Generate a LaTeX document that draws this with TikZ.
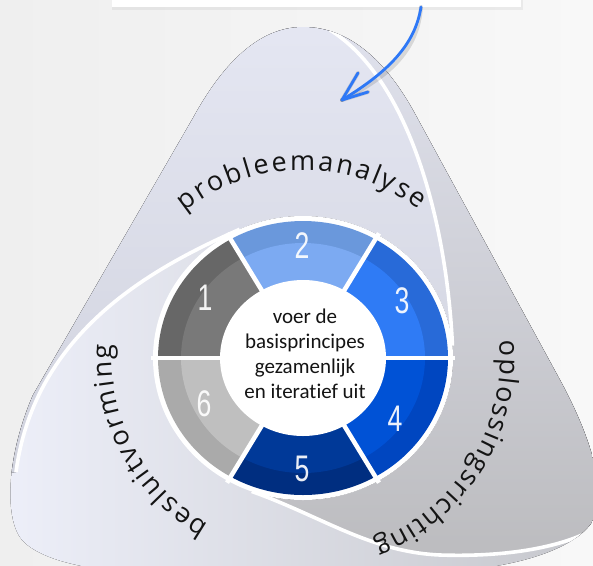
\documentclass[tikz,border=0pt]{standalone}
\usepackage{fontspec}
\setmainfont{Carlito}[Ligatures=NoCommon]
\newfontfamily\curvefont{Open Sans}
\newfontfamily\digitfont{Liberation Sans}
\usetikzlibrary{decorations.text,calc}
\definecolor{bgL}{RGB}{239,239,239}
\definecolor{bgR}{RGB}{248,248,248}
\definecolor{leftA}{RGB}{238,240,250}
\definecolor{leftB}{RGB}{196,197,202}
\definecolor{topA}{RGB}{230,232,244}
\definecolor{topB}{RGB}{208,210,221}
\definecolor{rightA}{RGB}{226,228,240}
\definecolor{rightB}{RGB}{188,188,191}
\definecolor{s1o}{RGB}{103,103,103}
\definecolor{s1i}{RGB}{121,121,121}
\definecolor{s2o}{RGB}{106,152,220}
\definecolor{s2i}{RGB}{124,170,242}
\definecolor{s3o}{RGB}{40,106,216}
\definecolor{s3i}{RGB}{47,123,245}
\definecolor{s4o}{RGB}{0,70,192}
\definecolor{s4i}{RGB}{0,82,214}
\definecolor{s5o}{RGB}{0,46,128}
\definecolor{s5i}{RGB}{0,57,152}
\definecolor{s6o}{RGB}{170,170,170}
\definecolor{s6i}{RGB}{191,191,191}
\definecolor{arrowc}{RGB}{46,120,246}
\definecolor{txt}{RGB}{20,20,20}
\begin{document}
\begin{tikzpicture}[x=1pt,y=-1pt,
  sep/.style={white,line width=3.6pt},
  num/.style={font=\digitfont\fontsize{37}{37}\selectfont, text=white, text opacity=0.92, xscale=0.72, inner sep=0pt},
  ctext/.style={font=\fontsize{21}{25}\selectfont, text=txt, align=center, inner sep=0pt},
  arr/.style={arrowc, line width=2.8pt, line cap=round, line join=round},
  arrshadow/.style={black, opacity=0.12, line width=4pt, line cap=round, line join=round}]
\useasboundingbox (0,0) rectangle (593,565);
\fill[left color=bgL, right color=bgR] (0,0) rectangle (593,565);

\coordinate (c) at (303,358);
\coordinate (A0) at ($(c)+(-5:150 and 142)$);
\coordinate (B0) at ($(c)+(-115:150 and 142)$);
\coordinate (C0) at ($(c)+(-250:150 and 142)$);
\coordinate (A1) at (330,30);
\coordinate (B1) at (16,472);
\coordinate (C1) at (582,535);

% lobes
\begin{scope}
\clip (303,27) .. controls (352,27) and (388,65) .. (414,112)
  -- (560,380) .. controls (598,450) and (606,500) .. (592,522)
  .. controls (575,548) and (520,568) .. (440,572) -- (150,572)
  .. controls (90,572) and (40,560) .. (22,540)
  .. controls (5,520) and (5,460) .. (33,395)
  -- (193,118) .. controls (222,65) and (258,27) .. (303,27) -- cycle;
\fill[left color=leftA, right color=leftB] (-10,-10) rectangle (620,580);
\fill[top color=topA, bottom color=topB]
  (A0) .. controls (447,225) and (410,80) .. (A1) -- (330,-10) -- (-50,-10) -- (-50,480) -- (B1)
  .. controls (35,330) and (155,267) .. (B0)
  arc[start angle=-115, end angle=-5, x radius=150, y radius=142] -- cycle;
\fill[top color=rightA, bottom color=rightB]
  (A0) .. controls (447,225) and (410,80) .. (A1) -- (330,-10) -- (650,-10) -- (650,540) -- (C1)
  .. controls (550,549) and (500,557) .. (440,555)
  .. controls (370,552) and (321,516) .. (C0)
  arc[start angle=-250, end angle=-365, x radius=150, y radius=142] -- cycle;
\draw[sep] (A0) .. controls (447,225) and (410,80) .. (A1);
\draw[sep] (B0) .. controls (155,267) and (35,330) .. (B1);
\draw[sep] (C0) .. controls (321,516) and (370,552) .. (440,555)
  .. controls (500,557) and (550,549) .. (C1);
\end{scope}

% ring
\fill[white] (c) ellipse[x radius=150, y radius=142];
\foreach \a/\co/\ci in {-180/s1o/s1i, -120/s2o/s2i, -60/s3o/s3i, 0/s4o/s4i, 60/s5o/s5i, 120/s6o/s6i}{
  \fill[\co] (c) -- ++(\a:145 and 137) arc[start angle=\a, delta angle=60, x radius=145, y radius=137] -- cycle;
  \fill[\ci] (c) -- ++(\a:122 and 115) arc[start angle=\a, delta angle=60, x radius=122, y radius=115] -- cycle;
}
\foreach \a in {0,60,...,300}{
  \draw[white, line width=4.5pt] (c) -- ++(\a:152 and 144);
}
\fill[white] (c) ellipse[x radius=83, y radius=78];

\node[num] (n1) at (205,298) {1};
\node[num] (n2) at (302,246) {2};
\node[num] (n3) at (402,301) {3};
\node[num] (n4) at (395,419) {4};
\node[num] (n5) at (302,469) {5};
\node[num] (n6) at (204,404) {6};

\node[ctext] (ctr) at (305,354) {voer de\\basisprincipes\\gezamenlijk\\en iteratief uit};

% curved labels
\coordinate (p0) at ($(c)+(-129:188)$);
\coordinate (b0) at ($(c)+(-240.5:191)$);
\coordinate (o0) at ($(c)+(-5:197)$);
\path[decorate, decoration={text along path, text color=txt, text align={fit to path},
  text={|\curvefont\fontsize{27}{30}\selectfont|probleemanalyse}}]
  (p0) arc[start angle=-129, end angle=-52, radius=188];
\path[decorate, decoration={text along path, text color=txt, text align={fit to path},
  text={|\curvefont\fontsize{27}{30}\selectfont|besluitvorming}}]
  (b0) arc[start angle=-240.5, end angle=-176, radius=191];
\path[decorate, decoration={text along path, text color=txt, text align={fit to path},
  text={|\curvefont\fontsize{27}{30}\selectfont|oplossingsrichting}}]
  (o0) arc[start angle=-5, end angle=69, radius=197];

% top box and arrow
\fill[black, opacity=0.05] (112,0) rectangle (523,10);
\node[fill=white, minimum width=409pt, minimum height=14pt, inner sep=0pt] (box) at (316.5,0) {};
\coordinate (as) at (421,7);
\coordinate (tip) at (342,100);
\begin{scope}[shift={(3,4)}]
\draw[arrshadow] (as) .. controls (415,45) and (388,72) .. (tip);
\draw[arrshadow] (tip) -- ++(16,-27);
\draw[arrshadow] (tip) -- ++(26,-8);
\end{scope}
\draw[arr] (as) .. controls (415,45) and (388,72) .. (tip);
\draw[arr] (tip) -- ++(16,-27);
\draw[arr] (tip) -- ++(26,-8);
\end{tikzpicture}
\end{document}
